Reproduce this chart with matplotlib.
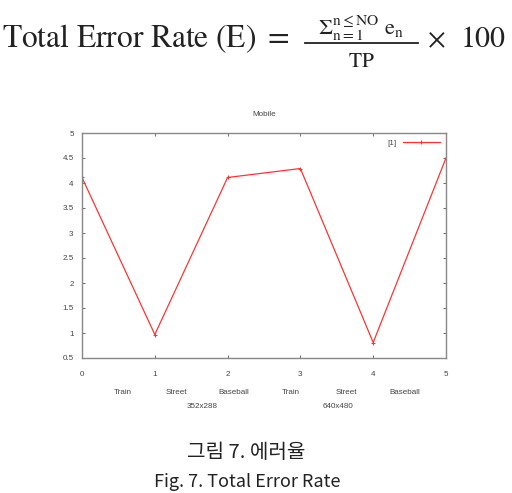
import matplotlib
matplotlib.use("Agg")
import matplotlib.pyplot as plt
from matplotlib.lines import Line2D

# Data
x_vals = [0, 1, 2, 3, 4, 5]
error_rate = [4.11, 0.97, 4.11, 4.29, 0.81, 4.50]
series_name = "[1]"
chart_title = "Mobile"
y_ticks = [0.5, 1, 1.5, 2, 2.5, 3, 3.5, 4, 4.5, 5]
y_tick_labels = ["0.5", "1", "1.5", "2", "2.5", "3", "3.5", "4", "4.5", "5"]
categories = ["Train", "Street", "Baseball", "Train", "Street", "Baseball"]
category_x = [0.56, 1.30, 2.09, 2.87, 3.63, 4.44]
resolutions = ["352x288", "640x480"]
resolution_x = [1.65, 3.52]
caption_kr = "그림 7. 에러율"
caption_en = "Fig. 7. Total Error Rate"
formula_left = r"$\mathrm{Total\ Error\ Rate\ (E)}\ =$"
formula_num = r"$\Sigma_{\mathrm{n=1}}^{\mathrm{n\leq NO}}\ \mathrm{e_n}$"
formula_den = r"$\mathrm{TP}$"
formula_times = r"$\times$"
formula_factor = r"$100$"

plt.rcParams['mathtext.fontset'] = 'stix'
plt.rcParams['font.family'] = ['Liberation Sans', 'DejaVu Sans']

fig = plt.figure(figsize=(5.12, 4.93), dpi=100)
W, H = 512, 493


def fx(px):
    return px / W


def fy(py):
    return 1 - py / H


ax = fig.add_axes([fx(82), fy(358), (446 - 82) / W, (358 - 133) / H])

line_color = "#ff3333"
ax.plot(x_vals, error_rate, color=line_color, lw=0.9, marker="+", ms=3,
        mew=0.8, label=series_name)
ax.set_xlim(0, 5)
ax.set_ylim(0.5, 5)
ax.set_yticks(y_ticks)
ax.set_yticklabels(y_tick_labels)
ax.set_xticks(x_vals)
for s in ax.spines.values():
    s.set_color("#888888")
    s.set_linewidth(1.0)
ax.tick_params(direction="in", length=2.5, width=0.6, color="#555555",
               labelsize=5.8, labelcolor="#444444", top=True, right=True, pad=6)
ax.tick_params(axis="x", pad=9)
ax.set_title(chart_title, fontsize=5.8, color="#444444", pad=12)

leg = ax.legend(loc="upper right", frameon=False, fontsize=5.8,
                handlelength=4.5, markerfirst=False, borderaxespad=0.4)
for t in leg.get_texts():
    t.set_color("#444444")

trans = ax.get_xaxis_transform()
for cx, c in zip(category_x, categories):
    ax.text(cx, -0.155, c, transform=trans, ha="center", va="center",
            fontsize=5.8, color="#444444")
for rx, r in zip(resolution_x, resolutions):
    ax.text(rx, -0.215, r, transform=trans, ha="center", va="center",
            fontsize=5.8, color="#444444")

# Formula header
txt_col = "#222222"
fig.text(fx(2), fy(47), formula_left, ha="left", va="baseline",
         fontsize=22.7, color=txt_col)
fig.text(fx(361), fy(35), formula_num, ha="center", va="baseline",
         fontsize=16, color=txt_col)
fig.add_artist(Line2D([fx(305), fx(418)], [fy(43), fy(43)],
                      transform=fig.transFigure, color=txt_col, lw=1.3))
fig.text(fx(361), fy(67), formula_den, ha="center", va="baseline",
         fontsize=15.5, color=txt_col)
fig.text(fx(436), fy(47), formula_times, ha="center", va="baseline",
         fontsize=20, color=txt_col)
fig.text(fx(506), fy(47), formula_factor, ha="right", va="baseline",
         fontsize=21.5, color=txt_col)

fig.text(fx(246), fy(452), caption_kr, ha="center", va="center",
         fontsize=14.5, color=txt_col,
         family=["Noto Sans CJK KR", "DejaVu Sans"])
fig.text(fx(247), fy(482), caption_en, ha="center", va="center",
         fontsize=13, color=txt_col,
         family=["Liberation Sans Narrow", "Noto Sans CJK KR", "DejaVu Sans"])

fig.savefig("out.png", dpi=100)
